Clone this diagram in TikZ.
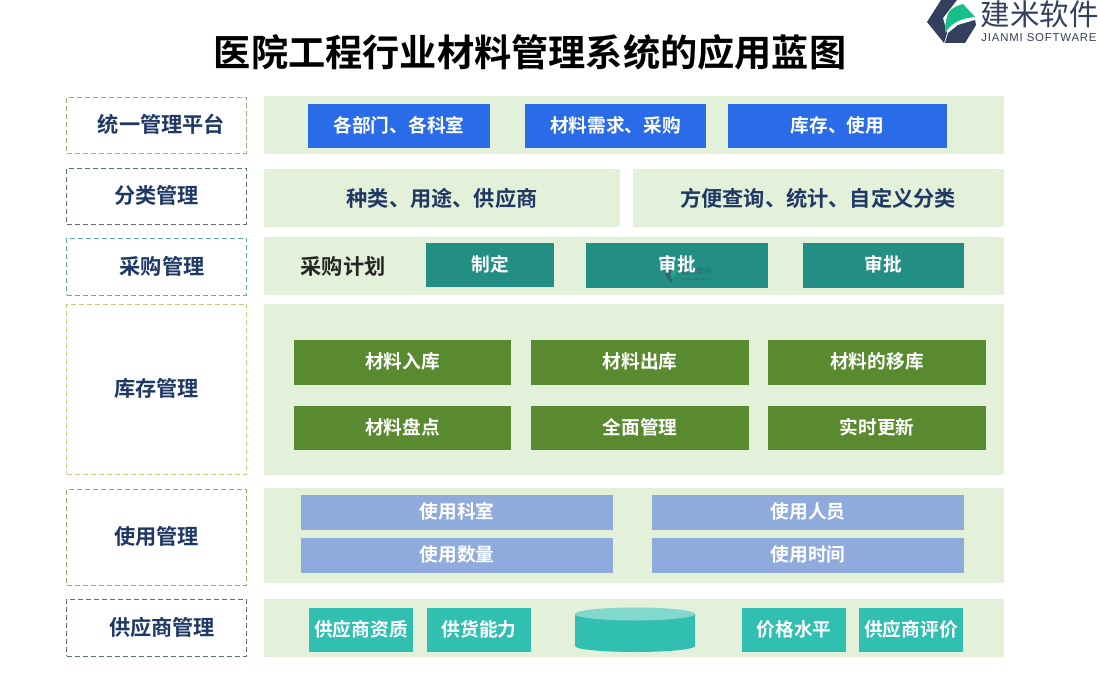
\documentclass[tikz,border=0pt]{standalone}
\usepackage{fontspec}
\setmainfont{Noto Sans CJK SC}[BoldFont={Noto Sans CJK SC Bold}]
\newfontfamily\latinfont{Liberation Sans}[LetterSpace=7]
\usetikzlibrary{positioning}

\definecolor{panelgreen}{HTML}{E3F0DA}
\definecolor{navytext}{HTML}{1F3864}
\definecolor{blueblock}{HTML}{2A6BE8}
\definecolor{pineblock}{HTML}{238F84}
\definecolor{leafblock}{HTML}{5A8A2F}
\definecolor{skyblock}{HTML}{8FAADC}
\definecolor{tealblock}{HTML}{30BFB0}
\definecolor{tealtop}{HTML}{82D8CC}
\definecolor{logodark}{HTML}{333F5C}
\definecolor{logogreen}{HTML}{17C08A}
\definecolor{dashgreen}{HTML}{9AB07A}
\definecolor{dashnavy}{HTML}{5A7088}
\definecolor{dashteal}{HTML}{62A8AA}
\definecolor{dashyellow}{HTML}{D6C878}
\definecolor{dashbrown}{HTML}{B49A70}

\tikzset{
    sidetext/.style={inner sep=0pt, text=navytext, text height=16.2pt, text depth=2pt, font=\fontsize{21.2}{21.2}\selectfont\bfseries},
    sidebox/.style={sidetext, draw, line width=0.8pt, dash pattern=on 5pt off 3pt, minimum width=179.5pt},
    panel/.style={fill=panelgreen, inner sep=0pt},
    block/.style={inner sep=0pt, text=white, text height=14.2pt, text depth=2pt, font=\fontsize{18.7}{18.7}\selectfont\bfseries},
    paneltext/.style={inner sep=0pt, text=navytext, font=\fontsize{21.2}{21.2}\selectfont\bfseries},
}

\begin{document}
\begin{tikzpicture}[x=1pt, y=-1pt]
    \useasboundingbox (0, 0) rectangle (1100, 700);

    \node[inner sep=0pt, font=\fontsize{37.2}{37.2}\selectfont\bfseries] (title) at (530, 52) {医院工程行业材料管理系统的应用蓝图};

    % logo
    \fill[logodark] (941, 0) -- (957, 0) -- (943, 18) -- (947, 33) -- (944, 43) -- (927, 22) -- cycle;
    \fill[logodark] (958, 25) -- (975, 20) -- (976, 25) -- (965, 43) -- (945, 43) -- (948, 33) -- cycle;
    \fill[logogreen] (945, 33) .. controls (945, 22) and (947, 12) .. (952, 9) .. controls (956, 6) and (960, 5) .. (963, 4) -- (975, 17) .. controls (966, 18) and (953, 20) .. (945, 33) -- cycle;
    \node[inner sep=0pt, text=logodark, font=\fontsize{29.5}{29.5}\selectfont] (logotext) at (1039.5, 14) {建米软件};
    \node[inner sep=0pt, text=logodark, font=\latinfont\fontsize{11.4}{11.4}\selectfont] (logosub) at (1039, 38) {JIANMI SOFTWARE};

    % left column
    \node[sidebox, draw=dashgreen, minimum height=56pt] (plat) at (156.5, 125) {};
    \node[sidetext] (platlabel) at (161.5, 125) {统一管理平台};
    \node[sidebox, draw=dashnavy, minimum height=56pt] (kind) at (156.5, 196) {分类管理};
    \node[sidebox, draw=dashteal, minimum height=57pt] (buy) at (156.5, 266.5) {};
    \node[sidetext] (buylabel) at (162, 267) {采购管理};
    \node[sidebox, draw=dashyellow, minimum height=170pt] (store) at (156.5, 389) {库存管理};
    \node[sidebox, draw=dashbrown, minimum height=96pt] (use) at (156.5, 537) {使用管理};
    \node[sidebox, draw=dashnavy, minimum height=57pt] (supply) at (156.5, 627.5) {};
    \node[sidetext] (supplylabel) at (162, 628) {供应商管理};

    % panels
    \node[panel, minimum width=740pt, minimum height=58pt] (platpanel) at (634, 125) {};
    \node[panel, minimum width=356pt, minimum height=58pt] (kindpanela) at (442, 198) {};
    \node[panel, minimum width=371pt, minimum height=58pt] (kindpanelb) at (818.5, 198) {};
    \node[panel, minimum width=740pt, minimum height=58pt] (buypanel) at (634, 266) {};
    \node[panel, minimum width=740pt, minimum height=171pt] (storepanel) at (634, 389.5) {};
    \node[panel, minimum width=740pt, minimum height=95pt] (usepanel) at (634, 535.5) {};
    \node[panel, minimum width=740pt, minimum height=58pt] (supplypanel) at (634, 628) {};

    % row 1
    \node[block, fill=blueblock, minimum width=182pt, minimum height=44pt] (plat1) at (399, 126) {各部门、各科室};
    \node[block, fill=blueblock, minimum width=181pt, minimum height=44pt] (plat2) at (615.5, 126) {材料需求、采购};
    \node[block, fill=blueblock, minimum width=219pt, minimum height=44pt] (plat3) at (837.5, 126) {库存、使用};

    % row 2
    \node[paneltext] (kind1) at (442, 198) {种类、用途、供应商};
    \node[paneltext] (kind2) at (818, 198) {方便查询、统计、自定义分类};

    % row 3
    \node[paneltext, text=black!85] (buyplan) at (343, 266) {采购计划};
    \node[block, fill=pineblock, minimum width=128pt, minimum height=44pt] (buy1) at (490, 265) {制定};
    \node[block, fill=pineblock, minimum width=182pt, minimum height=45pt] (buy2) at (677, 265.5) {};
    \node[inner sep=0pt, text=logodark, opacity=0.5, font=\fontsize{8}{8}\selectfont] (mark) at (696, 271) {建米软件};
    \node[inner sep=0pt, text=logodark, opacity=0.5, font=\latinfont\fontsize{3}{3}\selectfont] (marksub) at (696, 279) {JIANMI SOFTWARE};
    \fill[logodark, opacity=0.5] (665, 274) -- (668, 268) -- (672, 268) -- (670, 274) -- (673, 282) -- (670, 282) -- cycle;
    \fill[logogreen, opacity=0.5] (671, 279) .. controls (670, 274) and (672, 270) .. (677, 269) .. controls (677, 273) and (675, 276) .. (671, 279) -- cycle;
    \node[block] (buy2label) at (677, 265.5) {审批};
    \node[block, fill=pineblock, minimum width=161pt, minimum height=45pt] (buy3) at (883.5, 265.5) {审批};

    % row 4
    \node[block, fill=leafblock, minimum width=217pt, minimum height=45pt] (store1) at (402.5, 362.5) {材料入库};
    \node[block, fill=leafblock, minimum width=218pt, minimum height=45pt] (store2) at (640, 362.5) {材料出库};
    \node[block, fill=leafblock, minimum width=218pt, minimum height=45pt] (store3) at (877, 362.5) {材料的移库};
    \node[block, fill=leafblock, minimum width=217pt, minimum height=44pt] (store4) at (402.5, 428) {材料盘点};
    \node[block, fill=leafblock, minimum width=218pt, minimum height=44pt] (store5) at (640, 428) {全面管理};
    \node[block, fill=leafblock, minimum width=218pt, minimum height=44pt] (store6) at (877, 428) {实时更新};

    % row 5
    \node[block, fill=skyblock, minimum width=312pt, minimum height=35pt] (use1) at (457, 512.5) {使用科室};
    \node[block, fill=skyblock, minimum width=312pt, minimum height=35pt] (use2) at (808, 512.5) {使用人员};
    \node[block, fill=skyblock, minimum width=312pt, minimum height=35pt] (use3) at (457, 555.5) {使用数量};
    \node[block, fill=skyblock, minimum width=312pt, minimum height=35pt] (use4) at (808, 555.5) {使用时间};

    % row 6
    \node[block, fill=tealblock, minimum width=104pt, minimum height=44pt] (supply1) at (361, 630) {供应商资质};
    \node[block, fill=tealblock, minimum width=104pt, minimum height=44pt] (supply2) at (479, 630) {供货能力};
    \fill[tealblock] (575, 614) -- (575, 646) arc[start angle=180, end angle=360, x radius=60pt, y radius=6pt] -- (695, 614) -- cycle;
    \fill[tealtop] (635, 614) ellipse[x radius=60pt, y radius=6.5pt];
    \node[block, fill=tealblock, minimum width=104pt, minimum height=44pt] (supply3) at (794, 630) {价格水平};
    \node[block, fill=tealblock, minimum width=104pt, minimum height=44pt] (supply4) at (911, 630) {供应商评价};
\end{tikzpicture}
\end{document}
